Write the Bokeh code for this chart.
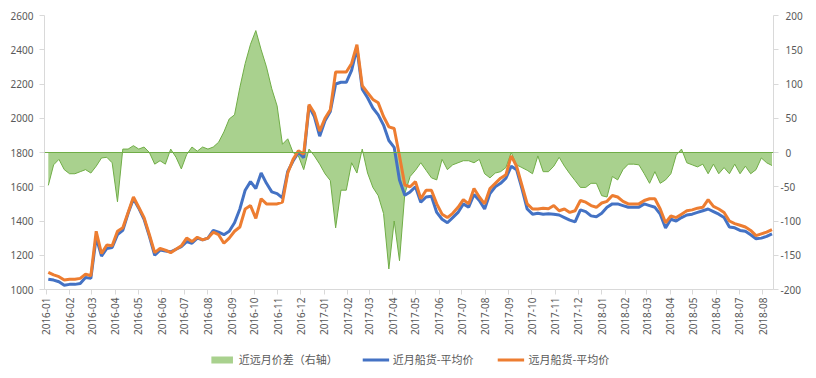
import pandas as pd
from math import pi
from bokeh.plotting import figure
from bokeh.layouts import column
from bokeh.models import (Range1d, LinearAxis, FixedTicker, DatetimeTickFormatter,
                          Legend, LegendItem, Span, CustomJSTickFormatter)
from bokeh.embed import file_html
from bokeh.resources import INLINE

# weekly samples starting 2016-01-04
start_date = "2016-01-04"

far_month = [  # 远月船货-平均价
    1100, 1085, 1075, 1055, 1060, 1060, 1065, 1090, 1080, 1340,
    1210, 1260, 1255, 1340, 1360, 1450, 1540, 1480, 1420, 1320,
    1215, 1240, 1230, 1215, 1235, 1255, 1300, 1280, 1305, 1290,
    1300, 1335, 1320, 1270, 1300, 1340, 1365, 1470, 1490, 1415,
    1530, 1500, 1500, 1500, 1510, 1680, 1760, 1810, 1790, 2080,
    2030, 1925, 2000, 2050, 2270, 2270, 2270, 2320, 2430, 2190,
    2150, 2110, 2090, 2010, 1950, 1940, 1780, 1610, 1600, 1630,
    1530, 1580, 1580, 1500, 1440, 1420, 1445, 1480, 1525, 1500,
    1590, 1540, 1500, 1590, 1620, 1650, 1670, 1780, 1720, 1610,
    1500, 1470, 1470, 1475, 1471, 1490, 1460, 1470, 1450, 1460,
    1520, 1510, 1490, 1480, 1505, 1515, 1549, 1540, 1515, 1500,
    1500, 1500, 1520, 1530, 1530, 1470, 1390, 1430, 1420, 1440,
    1460, 1465, 1475, 1480, 1525, 1485, 1470, 1450, 1400, 1385,
    1375, 1365, 1345, 1315, 1325, 1335, 1350,
]

near_month = [  # 近月船货-平均价
    1060, 1055, 1045, 1025, 1030, 1030, 1035, 1070, 1065, 1305,
    1195, 1240, 1245, 1320, 1345, 1445, 1530, 1475, 1410, 1310,
    1200, 1230, 1225, 1220, 1235, 1250, 1280, 1270, 1300, 1290,
    1300, 1345, 1335, 1320, 1340, 1390, 1470, 1580, 1630, 1590,
    1680, 1620, 1570, 1560, 1535, 1690, 1750, 1800, 1770, 2070,
    2010, 1895, 1985, 2040, 2200, 2210, 2210, 2280, 2410, 2170,
    2120, 2060, 2020, 1960, 1870, 1830, 1640, 1550, 1570, 1600,
    1510, 1540, 1545, 1450, 1410, 1390, 1420, 1450, 1500, 1480,
    1555, 1520, 1470, 1560, 1600, 1620, 1650, 1720, 1700, 1590,
    1470, 1440, 1445, 1440, 1442, 1440, 1435, 1420, 1405, 1395,
    1465, 1455, 1430, 1425, 1445, 1480, 1500, 1500, 1490, 1480,
    1481, 1481, 1500, 1490, 1480, 1440, 1360, 1410, 1400, 1420,
    1435, 1440, 1450, 1460, 1470, 1455, 1440, 1420, 1365, 1360,
    1345, 1340, 1320, 1296, 1300, 1310, 1325,
]

spread = [  # 近远月价差（右轴）
    -48, -18, -10, -25, -31, -31, -28, -25, -30, -20,
    -8, -7, -15, -72, 5, 5, 10, 5, 8, 0,
    -17, -12, -17, 5, -7, -24, -3, 8, 2, 8,
    5, 8, 15, 30, 49, 55, 95, 130, 158, 178,
    150, 125, 93, 68, 12, 20, 0, -5, -25, 5,
    -5, -17, -31, -41, -110, -55, -55, -15, -30, 5,
    -30, -51, -63, -89, -170, -100, -158, -60, -35, -26,
    -15, -26, -37, -40, -10, -25, -18, -15, -12, -12,
    -15, -10, -31, -37, -30, -28, -22, 0, -18, -22,
    -26, -31, -5, -28, -28, -20, -7, -20, -31, -41,
    -51, -51, -45, -45, -63, -65, -35, -40, -25, -17,
    -17, -18, -31, -45, -28, -45, -40, -31, -4, 5,
    -15, -18, -21, -17, -31, -17, -31, -22, -31, -17,
    -31, -20, -31, -25, -8, -15, -19,
]

month_ticks = pd.date_range("2016-01-01", "2018-08-01", freq="MS")
left_ticks = [1000, 1200, 1400, 1600, 1800, 2000, 2200, 2400, 2600]
right_ticks = [-200, -150, -100, -50, 0, 50, 100, 150, 200]

labels = ["近远月价差（右轴）", "近月船货-平均价", "远月船货-平均价"]

d_far = pd.date_range(start_date, periods=len(far_month), freq="7D")
d_near = pd.date_range(start_date, periods=len(near_month), freq="7D")
d_spread = pd.date_range(start_date, periods=len(spread), freq="7D")

AX = "#d9d9d9"
TXT = "#595959"
FONT = "Noto Sans"
GREEN_FILL, GREEN_LINE, BLUE, ORANGE = "#a9d18e", "#70ad47", "#4472c4", "#ed7d31"

p = figure(width=816, height=340, x_axis_type="datetime", output_backend="svg",
           toolbar_location=None,
           x_range=Range1d(pd.Timestamp("2015-12-30"), pd.Timestamp("2018-08-15")),
           y_range=Range1d(1000, 2600),
           min_border_left=44, min_border_right=43, min_border_top=15, min_border_bottom=51)
p.extra_y_ranges = {"spread": Range1d(-200, 200)}
p.grid.visible = False
p.outline_line_color = None
p.background_fill_color = "white"
p.border_fill_color = "white"

p.varea(x=d_spread, y1=0, y2=spread, y_range_name="spread",
        fill_color=GREEN_FILL, fill_alpha=1)
p.line(d_spread, spread, y_range_name="spread", line_color=GREEN_LINE, line_width=1)
p.add_layout(Span(location=0, dimension="width", y_range_name="spread",
                  line_color=GREEN_LINE, line_width=1))
p.line(d_near, near_month, line_color=BLUE, line_width=3)
p.line(d_far, far_month, line_color=ORANGE, line_width=3)

# axes
xa = p.xaxis[0]
xa.ticker = FixedTicker(ticks=[t.value // 10**6 for t in month_ticks])
xa.formatter = DatetimeTickFormatter(days="%Y-%m", months="%Y-%m", years="%Y-%m")
xa.major_label_orientation = pi / 2
xa.major_label_standoff = 3

ya = p.yaxis[0]
ya.ticker = FixedTicker(ticks=left_ticks)
ya.major_label_standoff = 6

ra = LinearAxis(y_range_name="spread", ticker=FixedTicker(ticks=right_ticks))
ra.formatter = CustomJSTickFormatter(code="return tick < 0 ? '-' + Math.abs(tick) : '\\u2002' + tick;")
ra.major_label_standoff = 2
p.add_layout(ra, "right")

for ax in (xa, ya, ra):
    ax.axis_line_color = AX
    ax.major_tick_line_color = AX
    ax.major_tick_out = 5
    ax.major_tick_in = 0
    ax.minor_tick_line_color = None
    ax.major_label_text_color = TXT
    ax.major_label_text_font = FONT
    ax.major_label_text_font_size = "10px"

# legend strip below the chart (key renderers sit outside the strip's visible range)
lg = figure(width=816, height=38, output_backend="svg", toolbar_location=None,
            x_range=Range1d(0, 1), y_range=Range1d(0, 1), min_border=0)
lg.axis.visible = False
lg.grid.visible = False
lg.outline_line_color = None
key_x, key_y = [5, 6], [5, 5]
r0 = lg.varea(x=key_x, y1=key_y, y2=key_y, fill_color=GREEN_FILL, fill_alpha=1)
r1 = lg.line(x=key_x, y=key_y, line_color=BLUE, line_width=3)
r2 = lg.line(x=key_x, y=key_y, line_color=ORANGE, line_width=3)
legend = Legend(items=[LegendItem(label=labels[0], renderers=[r0]),
                       LegendItem(label=labels[1], renderers=[r1]),
                       LegendItem(label=labels[2], renderers=[r2])],
                orientation="horizontal", location="center",
                border_line_color=None, background_fill_alpha=0,
                label_text_font=FONT + " CJK SC", label_text_font_size="11px",
                label_text_color=TXT, glyph_width=27, glyph_height=9,
                label_height=9, label_standoff=4, spacing=24, padding=4, margin=0)
lg.add_layout(legend, "center")

layout = column(p, lg, spacing=0)
open("out.html", "w").write(file_html(layout, INLINE))
